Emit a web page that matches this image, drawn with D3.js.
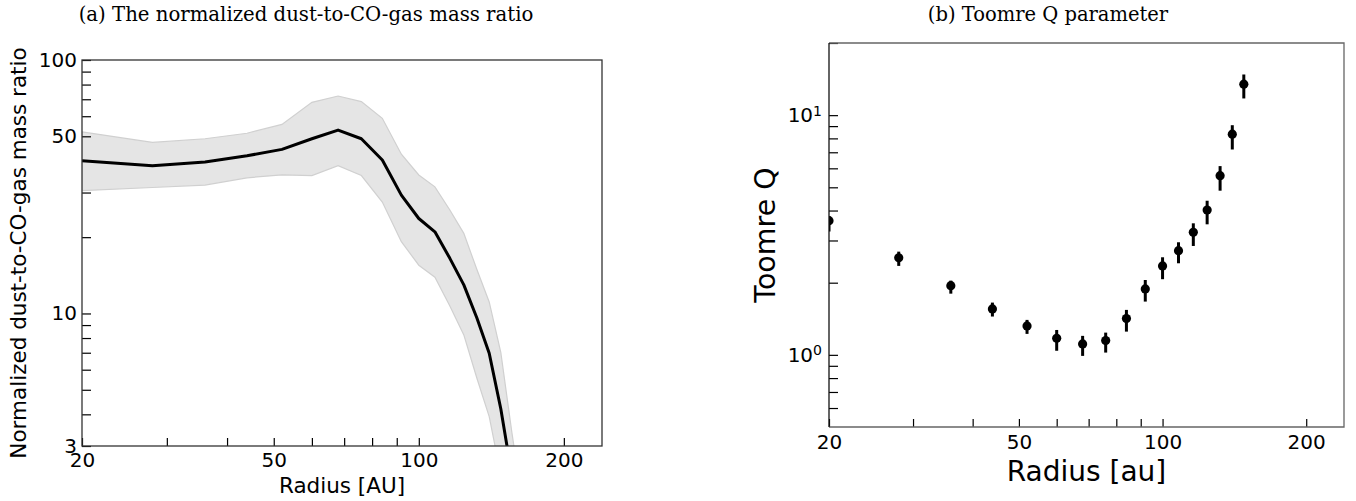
<!DOCTYPE html>
<html><head><meta charset="utf-8">
<script src="https://cdn.jsdelivr.net/npm/d3@7"></script>
<style>body{margin:0;background:#fff} svg{display:block}</style>
</head><body>
<svg id="c" width="1356" height="501"></svg>
<script>
// ---------- data : panel (a) ----------
const radiusA   = [20, 28, 36, 44, 52, 60, 68, 76, 84, 92, 100, 108, 116, 124, 132, 140, 148, 156, 164];
const ratioMean = [40.0, 38.3, 39.6, 41.9, 44.4, 48.9, 52.9, 48.9, 40.3, 29.3, 23.7, 21.0, 16.5, 12.96, 9.6, 6.97, 4.2, 2.3, 1.2];
const ratioHigh = [52.1, 47.3, 48.9, 51.4, 55.7, 68.1, 72.1, 68.5, 58.9, 42.5, 35.2, 31.6, 25.6, 20.7, 14.9, 11.1, 7.0, 3.4, 1.8];
const ratioLow  = [30.5, 31.4, 32.1, 34.3, 35.2, 35.0, 38.3, 35.0, 27.5, 19.2, 15.5, 13.9, 10.7, 8.23, 5.55, 3.92, 2.3, 1.5, 0.8];
// ---------- data : panel (b) ----------
const radiusQ = [20, 28, 36, 44, 52, 60, 68, 76, 84, 92, 100, 108, 116, 124, 132, 140, 148];
const toomreQ = [3.63, 2.54, 1.944, 1.555, 1.32, 1.173, 1.111, 1.147, 1.417, 1.884, 2.349, 2.72, 3.245, 4.02, 5.59, 8.33, 13.46];
const qLow    = [3.27, 2.35, 1.80, 1.445, 1.223, 1.04, 0.99, 1.022, 1.25, 1.668, 2.068, 2.41, 2.846, 3.504, 4.84, 7.19, 11.74];
const qHigh   = [3.79, 2.695, 2.04, 1.652, 1.399, 1.27, 1.2, 1.238, 1.54, 2.053, 2.553, 2.949, 3.538, 4.395, 6.13, 9.08, 14.78];
// ---------- axes / ticks ----------
const xDomain = [20, 240];
const xTicks = [20, 30, 40, 50, 60, 70, 80, 90, 100, 200];
const xTickLabels = [20, 50, 100, 200];
const yDomainA = [3, 100];
const yTicksA = [3, 4, 5, 6, 7, 8, 9, 10, 20, 30, 50, 60, 70, 80, 90, 100];
const yTickLabelsA = [3, 10, 50, 100];
const yDomainQ = [0.5, 20];
const yTicksQ = [0.6, 0.7, 0.8, 0.9, 1, 2, 3, 4, 5, 6, 7, 8, 9, 10, 20];
const yTickLabelsQ = [1, 10];
const titleA = "(a) The normalized dust-to-CO-gas mass ratio";
const titleB = "(b) Toomre Q parameter";
const xLabelA = "Radius [AU]", yLabelA = "Normalized dust-to-CO-gas mass ratio";
const xLabelB = "Radius [au]", yLabelB = "Toomre Q";

const sans = "'DejaVu Sans', sans-serif";
const serif = "'DejaVu Serif', serif";
const svg = d3.select('#c');
const defs = svg.append('defs');

function styleAxis(g, size) {
  g.select('.domain').remove();
  g.selectAll('.tick line').attr('stroke', '#000').attr('stroke-width', 1.2);
  g.selectAll('.tick text').attr('font-family', sans).attr('font-size', size).attr('fill', '#000');
}

// ================= Panel A =================
const A = {x0: 82, x1: 602, y0: 60, y1: 446};
const xA = d3.scaleLog().domain(xDomain).range([A.x0, A.x1]);
const yA = d3.scaleLog().domain(yDomainA).range([A.y1, A.y0]);
defs.append('clipPath').attr('id', 'clipA').append('rect')
  .attr('x', A.x0).attr('y', A.y0).attr('width', A.x1 - A.x0).attr('height', A.y1 - A.y0);

const rowsA = radiusA.map((r, i) => ({r, m: ratioMean[i], hi: ratioHigh[i], lo: ratioLow[i]}));
const gA = svg.append('g');
const plotA = gA.append('g').attr('clip-path', 'url(#clipA)');
plotA.append('path').datum(rowsA)
  .attr('d', d3.area().x(d => xA(d.r)).y0(d => yA(d.lo)).y1(d => yA(d.hi)))
  .attr('fill', '#e5e5e5').attr('stroke', '#d0d0d0').attr('stroke-width', 1.2);
plotA.append('path').datum(rowsA)
  .attr('d', d3.line().x(d => xA(d.r)).y(d => yA(d.m)))
  .attr('fill', 'none').attr('stroke', '#000').attr('stroke-width', 3).attr('stroke-linejoin', 'round');

gA.append('g').attr('transform', `translate(0,${A.y1})`)
  .call(d3.axisBottom(xA).tickValues(xTicks).tickFormat(d => xTickLabels.includes(d) ? d : '')
    .tickSizeInner(-8).tickSizeOuter(0).tickPadding(7))
  .call(g => styleAxis(g, 20));
gA.append('g').attr('transform', `translate(${A.x0},0)`)
  .call(d3.axisLeft(yA).tickValues(yTicksA).tickFormat(d => yTickLabelsA.includes(d) ? d : '')
    .tickSizeInner(-9).tickSizeOuter(0).tickPadding(5))
  .call(g => styleAxis(g, 20));
gA.append('rect').attr('x', A.x0).attr('y', A.y0).attr('width', A.x1 - A.x0).attr('height', A.y1 - A.y0)
  .attr('fill', 'none').attr('stroke', '#333').attr('stroke-width', 1.3);

gA.append('text').attr('x', (A.x0 + A.x1) / 2).attr('y', 493).attr('text-anchor', 'middle')
  .attr('font-family', sans).attr('font-size', 21.5).text(xLabelA);
gA.append('text').attr('transform', `translate(26,${(A.y0 + A.y1) / 2}) rotate(-90)`).attr('text-anchor', 'middle')
  .attr('font-family', sans).attr('font-size', 21.5).text(yLabelA);
gA.append('text').attr('x', 306).attr('y', 21).attr('text-anchor', 'middle')
  .attr('font-family', serif).attr('font-size', 19.7).text(titleA);

// ================= Panel B =================
const B = {x0: 829, x1: 1344, y0: 43, y1: 427};
const xB = d3.scaleLog().domain(xDomain).range([B.x0, B.x1]);
const yB = d3.scaleLog().domain(yDomainQ).range([B.y1, B.y0]);
defs.append('clipPath').attr('id', 'clipB').append('rect')
  .attr('x', B.x0).attr('y', B.y0).attr('width', B.x1 - B.x0).attr('height', B.y1 - B.y0);

const rowsB = radiusQ.map((r, i) => ({r, q: toomreQ[i], lo: qLow[i], hi: qHigh[i]}));
const gB = svg.append('g');
const plotB = gB.append('g').attr('clip-path', 'url(#clipB)');
plotB.selectAll('line.err').data(rowsB).join('line').attr('class', 'err')
  .attr('x1', d => xB(d.r)).attr('x2', d => xB(d.r))
  .attr('y1', d => yB(d.lo)).attr('y2', d => yB(d.hi))
  .attr('stroke', '#000').attr('stroke-width', 3);
plotB.selectAll('circle').data(rowsB).join('circle')
  .attr('cx', d => xB(d.r)).attr('cy', d => yB(d.q)).attr('r', 4.6).attr('fill', '#000');

gB.append('g').attr('transform', `translate(0,${B.y1})`)
  .call(d3.axisBottom(xB).tickValues(xTicks).tickFormat(d => xTickLabels.includes(d) ? d : '')
    .tickSizeInner(-8).tickSizeOuter(0).tickPadding(8))
  .call(g => styleAxis(g, 20));
const yAxB = gB.append('g').attr('transform', `translate(${B.x0},0)`)
  .call(d3.axisLeft(yB).tickValues(yTicksQ).tickFormat('')
    .tickSizeInner(-9).tickSizeOuter(0).tickPadding(7))
  .call(g => styleAxis(g, 20));
yAxB.selectAll('.tick').each(function(d) {
  if (!yTickLabelsQ.includes(d)) return;
  const t = d3.select(this).select('text').text(null);
  t.append('tspan').text('10');
  t.append('tspan').attr('dy', '-0.45em').attr('font-size', 14).text(Math.round(Math.log10(d)));
});
gB.append('path')
  .attr('d', `M${B.x0},${B.y0}H${B.x1}V${B.y1}H${B.x0}`)
  .attr('fill', 'none').attr('stroke', '#666').attr('stroke-width', 1.3);
gB.append('line').attr('x1', B.x0).attr('x2', B.x0).attr('y1', B.y0).attr('y2', B.y1)
  .attr('stroke', '#111').attr('stroke-width', 1.3);

gB.append('text').attr('x', (B.x0 + B.x1) / 2).attr('y', 481).attr('text-anchor', 'middle')
  .attr('font-family', sans).attr('font-size', 28).text(xLabelB);
gB.append('text').attr('transform', `translate(775,${(B.y0 + B.y1) / 2}) rotate(-90)`).attr('text-anchor', 'middle')
  .attr('font-family', sans).attr('font-size', 28.5).text(yLabelB);
gB.append('text').attr('x', 1048).attr('y', 21).attr('text-anchor', 'middle')
  .attr('font-family', serif).attr('font-size', 19.5).text(titleB);
</script>
</body></html>
